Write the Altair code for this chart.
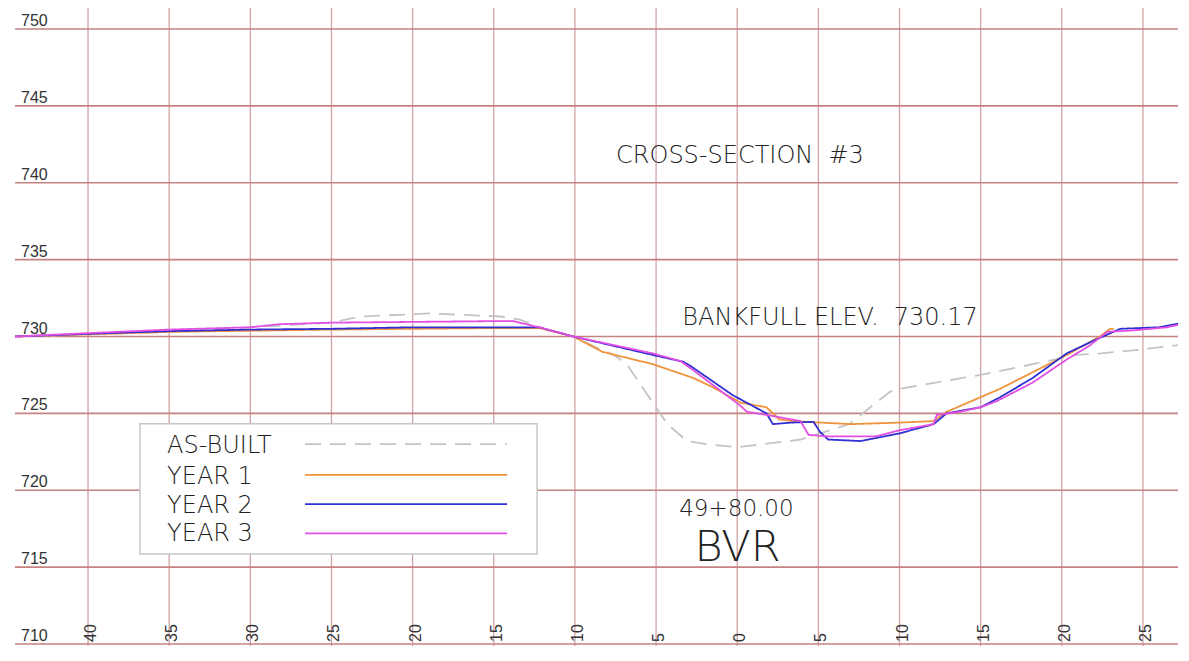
import altair as alt
import pandas as pd

# ---------------- data ----------------
series_names = ["AS-BUILT", "YEAR 1", "YEAR 2", "YEAR 3"]
series_colors = ["#c4c4c4", "#f0923a", "#2f2fd2", "#e24fe2"]

asbuilt_x = [-44.5, -35, -30, -25, -23.2, -18.9, -14.6, -13.4, -12.2, -10.1, -8.3, -7.6, -6.8, -5.2, -4.3, -3.1, -1.9, 0.0, 3.9, 6.9, 9.4, 10.0, 15.0, 18.2, 20.9, 22.4, 24.4, 27.7]
asbuilt_y = [730.0, 730.3, 730.6, 730.9, 731.3, 731.5, 731.3, 731.1, 730.6, 730.0, 729.1, 728.8, 728.2, 725.7, 724.3, 723.2, 723.0, 722.8, 723.3, 724.3, 726.4, 726.6, 727.5, 728.2, 728.8, 728.9, 729.1, 729.5]

year1_x = [-44.5, -35, -25, -15, -12.2, -10.1, -8.3, -5.2, -2.7, -1.5, 0.2, 1.8, 2.6, 3.4, 7.0, 10.0, 12.1, 12.9, 16.2, 20.3, 22.35, 22.97, 23.2]
year1_y = [730.0, 730.3, 730.45, 730.55, 730.55, 730.0, 729.0, 728.2, 727.3, 726.7, 725.7, 725.4, 724.6, 724.5, 724.3, 724.4, 724.5, 725.1, 726.6, 728.8, 730.0, 730.5, 730.5]

year2_x = [-44.5, -39.3, -35, -30, -25, -20, -15, -12.2, -10.1, -5.2, -3.3, -2.9, -0.3, 1.8, 2.2, 3.3, 4.7, 5.1, 5.6, 7.6, 10.0, 12.1, 12.9, 15.0, 16.2, 18.2, 20.3, 21.9, 23.6, 26.0, 27.5]
year2_y = [730.0, 730.2, 730.35, 730.45, 730.5, 730.6, 730.6, 730.6, 730.0, 728.8, 728.35, 728.1, 726.2, 725.0, 724.3, 724.4, 724.45, 723.8, 723.3, 723.2, 723.7, 724.3, 725.0, 725.4, 726.05, 727.3, 728.9, 729.7, 730.5, 730.6, 730.9]

year3_x = [-44.5, -39.3, -35, -30, -28.2, -25, -20, -15, -13.8, -12.2, -10.1, -5.2, -3.5, -2.7, 0.2, 0.6, 1.8, 3.9, 4.4, 5.6, 8.5, 10.0, 12.1, 12.3, 13.7, 15.0, 16.0, 18.2, 20.3, 21.7, 22.8, 24.4, 26.5, 27.7]
year3_y = [730.0, 730.25, 730.45, 730.6, 730.8, 730.9, 730.95, 731.0, 731.0, 730.6, 730.0, 728.9, 728.4, 727.8, 725.5, 725.1, 724.9, 724.5, 723.6, 723.5, 723.5, 723.9, 724.3, 724.9, 725.1, 725.4, 725.8, 727.0, 728.5, 729.4, 730.3, 730.4, 730.6, 730.9]

x_ticks = [-40, -35, -30, -25, -20, -15, -10, -5, 0, 5, 10, 15, 20, 25]
x_tick_labels = ["40", "35", "30", "25", "20", "15", "10", "5", "0", "5", "10", "15", "20", "25"]
y_ticks = [710, 715, 720, 725, 730, 735, 740, 745, 750]

title_text = "CROSS-SECTION\u00a0\u00a0#3"
bankfull_text = "BANKFULL\u00a0ELEV.\u00a0\u00a0730.17"
station_text = "49+80.00"
stream_text = "BVR"

# ---------------- layout (not data) ----------------
X_DOMAIN = [-44.5, 27.16]
Y_DOMAIN = [709.87, 751.366]
W, H = 1163, 638
legend_text_y = [722.87, 720.83, 718.98, 717.13]
legend_line_y = [723.0, 721.0, 719.1, 717.2]
CAD_FONT = "DejaVu Sans"
TXT = "#222222"

frames = []
for name, xs_, ys_ in [
    ("AS-BUILT", asbuilt_x, asbuilt_y),
    ("YEAR 1", year1_x, year1_y),
    ("YEAR 2", year2_x, year2_y),
    ("YEAR 3", year3_x, year3_y),
]:
    frames.append(pd.DataFrame({"series": name, "x": xs_, "y": ys_}))
lines_df = pd.concat(frames, ignore_index=True)

xs = alt.Scale(domain=X_DOMAIN, nice=False, zero=False)
ys = alt.Scale(domain=Y_DOMAIN, nice=False, zero=False)
color = alt.Color("series:N", scale=alt.Scale(domain=series_names, range=series_colors), legend=None)
dash = alt.StrokeDash("series:N", scale=alt.Scale(domain=series_names,
                                                  range=[[16, 9], [1, 0], [1, 0], [1, 0]]), legend=None)

xt = pd.DataFrame({"v": x_ticks, "lab": x_tick_labels, "base": [710] * len(x_ticks)})
yt = pd.DataFrame({"v": y_ticks, "lab": [str(v) for v in y_ticks]})

hgrid = alt.Chart(yt).mark_rule(color="#c68282", strokeWidth=1.6).encode(
    y=alt.Y("v:Q", scale=ys, axis=None))
vgrid = alt.Chart(xt).mark_rule(color="#cfa3a3", strokeWidth=1.3).encode(
    x=alt.X("v:Q", scale=xs, axis=None))

ylab = alt.Chart(yt).mark_text(align="left", baseline="alphabetic", dy=-3, fontSize=16,
                               font="Liberation Sans", color="#333333").encode(
    x=alt.value(6), y=alt.Y("v:Q", scale=ys, axis=None), text="lab:N")
xlab = alt.Chart(xt).mark_text(align="left", baseline="middle", angle=270, dx=2, dy=3,
                               fontSize=16, font="Liberation Sans", color="#333333").encode(
    x=alt.X("v:Q", scale=xs, axis=None), y=alt.Y("base:Q", scale=ys, axis=None), text="lab:N")

box_df = pd.DataFrame({"x1": [-36.8], "x2": [-12.33], "y1": [724.33], "y2": [715.86]})
legend_box = alt.Chart(box_df).mark_rect(fill="white", stroke="#c6c6c6", strokeWidth=1.5).encode(
    x=alt.X("x1:Q", scale=xs, axis=None), x2="x2:Q",
    y=alt.Y("y1:Q", scale=ys, axis=None), y2="y2:Q")

leg_df = pd.DataFrame({"series": series_names, "ty": legend_text_y, "ly": legend_line_y,
                       "tx": [-35.13] * 4, "lx1": [-26.63] * 4, "lx2": [-14.18] * 4})
leg_text = alt.Chart(leg_df).mark_text(align="left", baseline="middle", fontSize=24,
                                       font=CAD_FONT, fontWeight=300, color=TXT).encode(
    x=alt.X("tx:Q", scale=xs, axis=None), y=alt.Y("ty:Q", scale=ys, axis=None), text="series:N")
leg_line = alt.Chart(leg_df).mark_rule(strokeWidth=1.8).encode(
    x=alt.X("lx1:Q", scale=xs, axis=None), x2="lx2:Q",
    y=alt.Y("ly:Q", scale=ys, axis=None),
    color=color, strokeDash=dash)

data_lines = alt.Chart(lines_df).mark_line(strokeWidth=1.8, clip=True).encode(
    x=alt.X("x:Q", scale=xs, axis=None),
    y=alt.Y("y:Q", scale=ys, axis=None),
    color=color, strokeDash=dash)

ann_df = pd.DataFrame({
    "t": [title_text, bankfull_text, station_text],
    "x": [0.17, 5.72, -0.05],
    "y": [741.75, 731.2, 718.8],
    "fs": [24, 24, 23],
})
ann = alt.Chart(ann_df).mark_text(align="center", baseline="middle",
                                  font=CAD_FONT, fontWeight=300, color=TXT).encode(
    x=alt.X("x:Q", scale=xs, axis=None), y=alt.Y("y:Q", scale=ys, axis=None), text="t:N",
    size=alt.Size("fs:Q", scale=None, legend=None))
bvr_df = pd.DataFrame({"t": [stream_text], "x": [0.02], "y": [716.25]})
bvr = alt.Chart(bvr_df).mark_text(align="center", baseline="middle", fontSize=43,
                                  font=CAD_FONT, fontWeight=300, color=TXT).encode(
    x=alt.X("x:Q", scale=xs, axis=None), y=alt.Y("y:Q", scale=ys, axis=None), text="t:N")

chart = alt.layer(
    vgrid, hgrid, ylab, xlab, legend_box, leg_text, leg_line, data_lines, ann, bvr
).properties(
    width=W, height=H,
    autosize=alt.AutoSizeParams(type="none"),
    padding={"left": 7, "top": 0, "right": 0, "bottom": 0},
    background="white",
).configure_view(stroke=None)

chart.save("out.html", embed_options={"renderer": "svg", "actions": False})
